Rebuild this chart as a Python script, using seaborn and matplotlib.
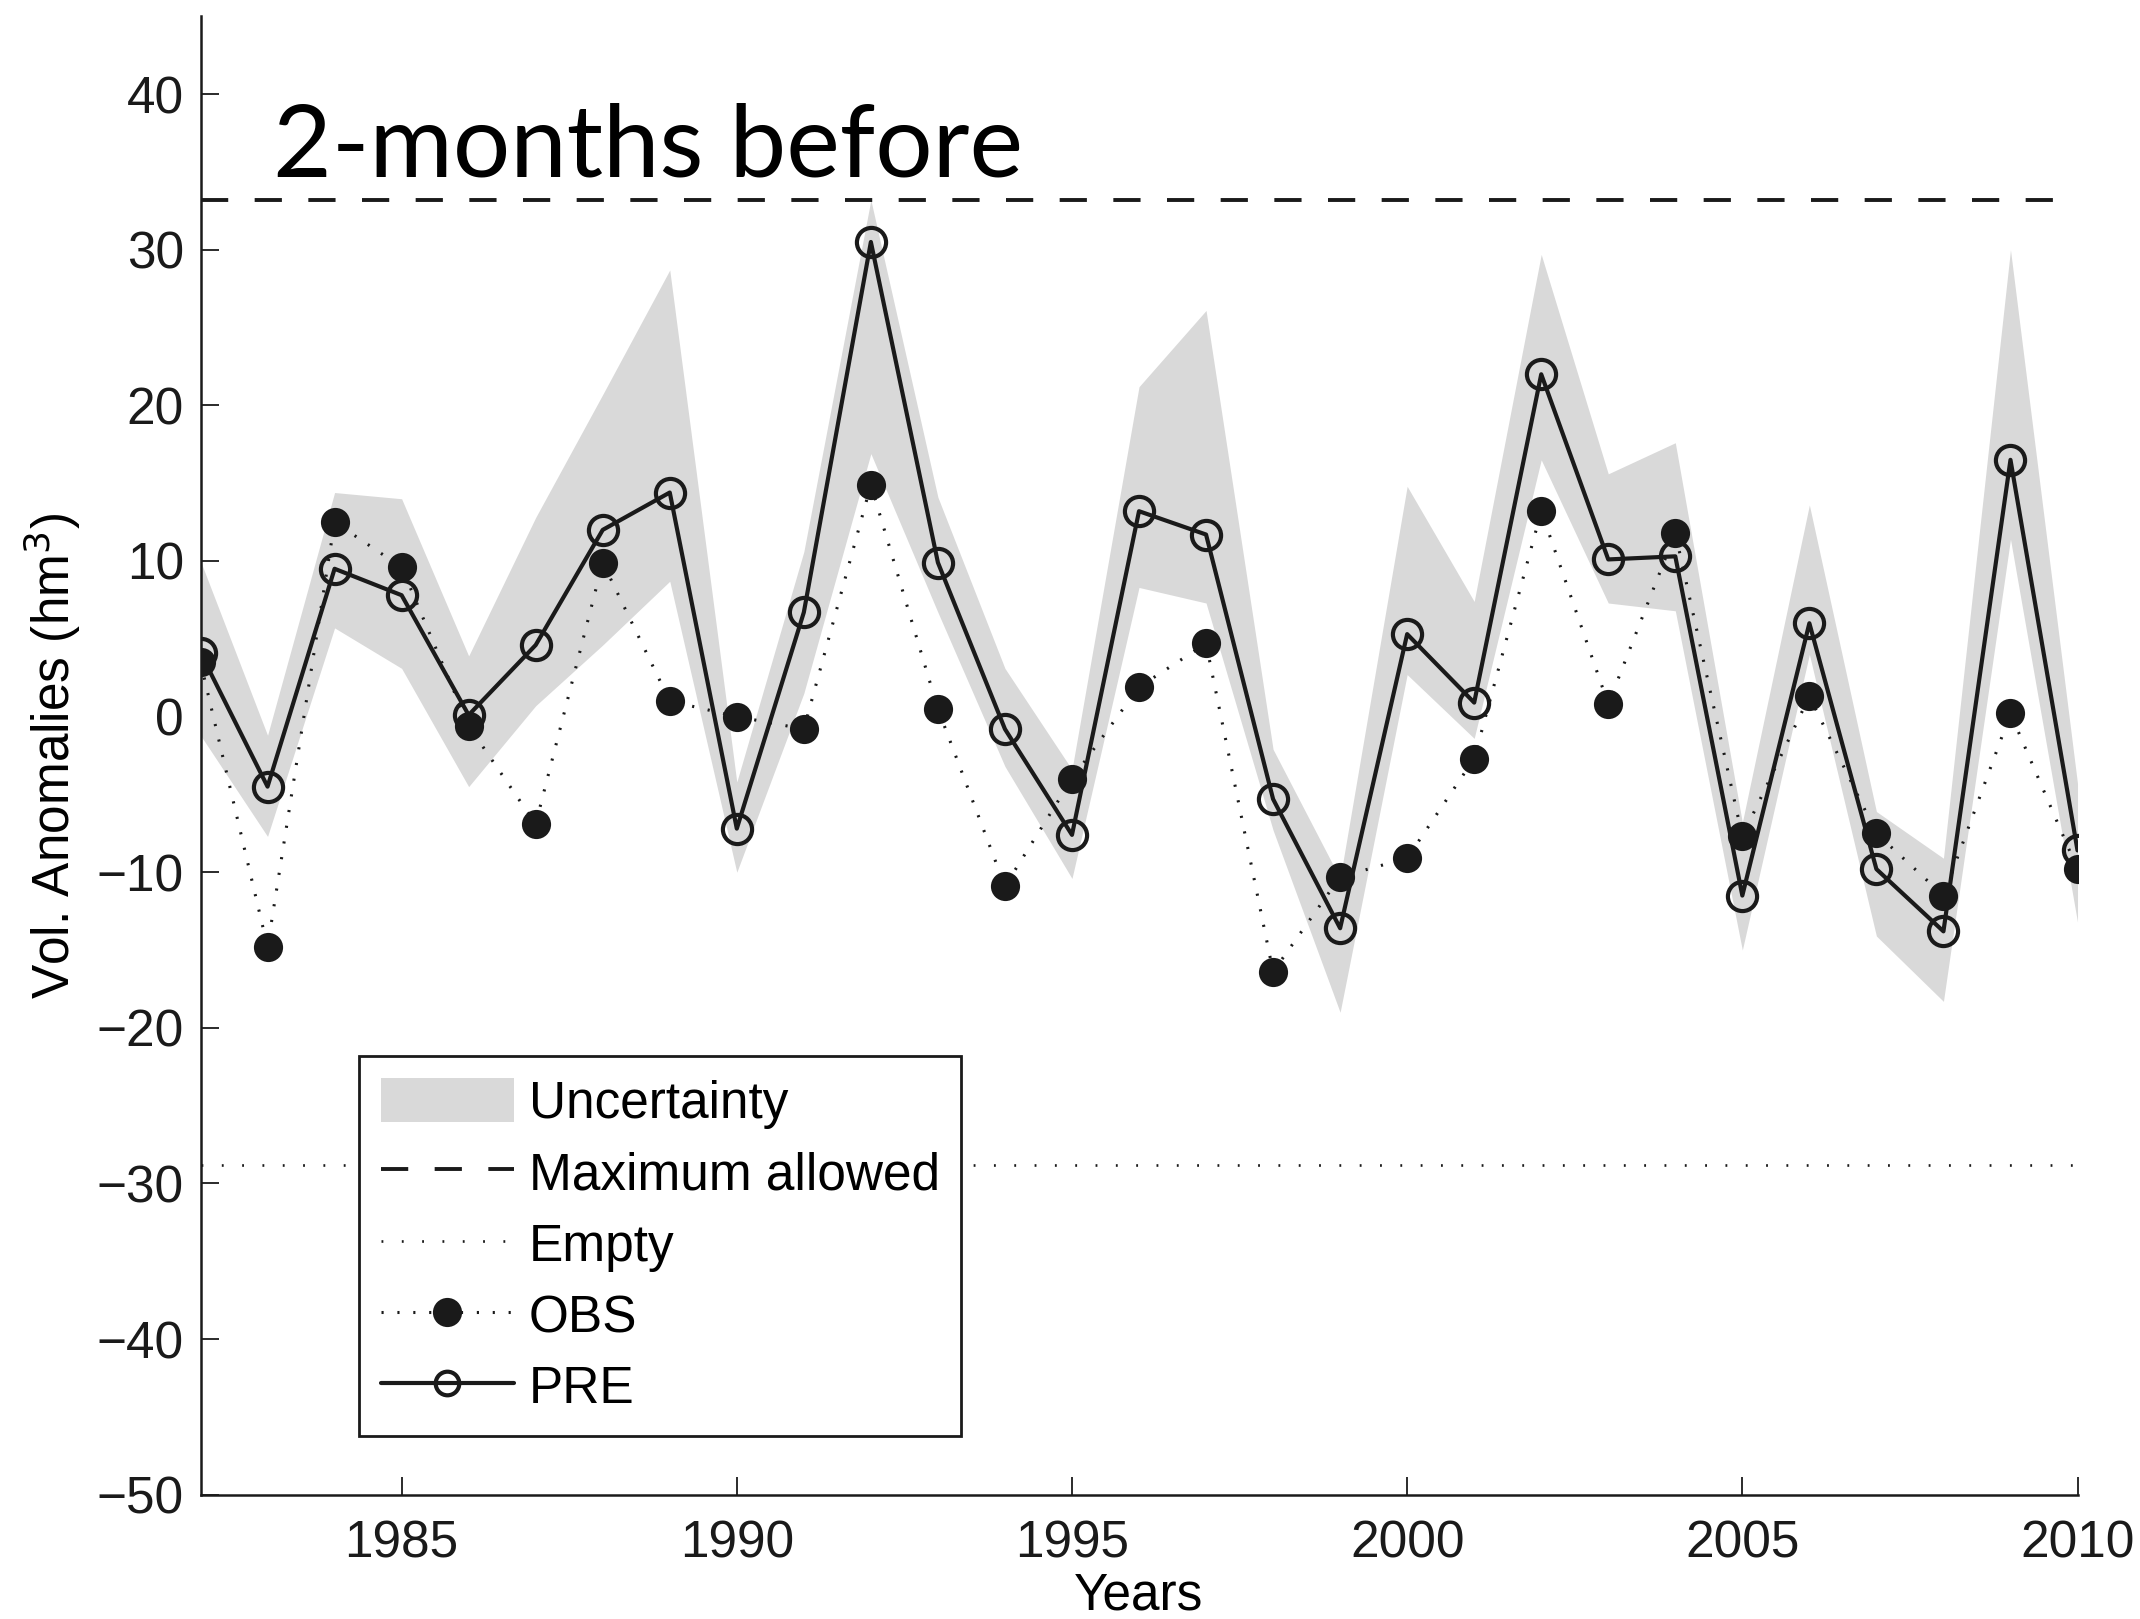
import numpy as np
import pandas as pd
import matplotlib
matplotlib.use("Agg")
import matplotlib.pyplot as plt
import seaborn as sns
from matplotlib.lines import Line2D
from matplotlib.patches import Patch

# ---------------- data ----------------
years = list(range(1982, 2011))
pre = [4.1, -4.5, 9.5, 7.8, 0.1, 4.6, 12.0, 14.4, -7.2, 6.7, 30.5, 9.9, -0.8, -7.6,
       13.2, 11.7, -5.3, -13.6, 5.3, 0.9, 22.0, 10.1, 10.3, -11.5, 6.0, -9.8, -13.8,
       16.5, -8.6]
obs = [3.5, -14.8, 12.5, 9.6, -0.6, -6.9, 9.9, 1.0, 0.0, -0.8, 14.9, 0.5, -10.9, -4.0,
       1.9, 4.7, -16.4, -10.3, -9.1, -2.7, 13.2, 0.8, 11.8, -7.7, 1.3, -7.5, -11.5,
       0.2, -9.8]
upper = [10.0, -1.2, 14.4, 14.0, 3.9, 12.8, 20.7, 28.7, -4.2, 10.6, 33.2, 14.1, 3.1, -3.4,
         21.2, 26.1, -2.1, -10.4, 14.8, 7.4, 29.7, 15.6, 17.6, -6.8, 13.6, -6.1, -9.1,
         30.0, -4.3]
lower = [-1.2, -7.7, 5.7, 3.1, -4.5, 0.7, 4.6, 8.7, -10.0, 1.5, 16.9, 6.7, -3.2, -10.4,
         8.3, 7.3, -7.3, -19.0, 2.7, -1.4, 16.5, 7.3, 6.8, -15.0, 4.0, -14.1, -18.3,
         11.4, -13.2]
max_allowed = 33.2
empty_level = -28.8
x_ticks = [1985, 1990, 1995, 2000, 2005, 2010]
y_ticks = [-50, -40, -30, -20, -10, 0, 10, 20, 30, 40]
legend_labels = ["Uncertainty", "Maximum allowed", "Empty", "OBS", "PRE"]
title_text = "2-months before"

df = pd.DataFrame({"year": years, "pre": pre, "obs": obs,
                   "upper": upper, "lower": lower})

# ---------------- style ----------------
sns.set_theme(style="ticks")
plt.rcParams["font.family"] = ["Liberation Sans", "DejaVu Sans"]
for key in ["text.color", "axes.labelcolor", "xtick.color", "ytick.color",
            "axes.edgecolor"]:
    plt.rcParams[key] = "black"

FS = 37

fig = plt.figure(figsize=(21.4, 16.19), dpi=100)
ax = fig.add_axes([0.0937, 0.0768, 0.8771, 0.9131])

band_color = "#d9d9d9"
ax.fill_between(df["year"], df["lower"], df["upper"], color=band_color, lw=0, zorder=1)

dash_style = (0, (7.0, 6.8))
dot_style = (0, (0.7, 7.0))
obs_style = (0, (0.7, 4.5))
ax.axhline(max_allowed, color="k", lw=2.8, linestyle=dash_style, zorder=2)
ax.axhline(empty_level, color="k", lw=1.9, linestyle=dot_style, zorder=2)

sns.lineplot(data=df, x="year", y="pre", ax=ax, color="k", lw=3.0,
             marker="o", markersize=21, markerfacecolor="none",
             markeredgecolor="k", markeredgewidth=3.0, zorder=3)
sns.lineplot(data=df, x="year", y="obs", ax=ax, color="k", lw=2.2,
             linestyle=obs_style, marker="o", markersize=21,
             markerfacecolor="k", markeredgecolor="k", markeredgewidth=0, zorder=4)

ax.text(1983.08, 34.7, title_text, fontsize=73, family=["Lato", "DejaVu Sans"],
        va="baseline", ha="left", color="black", zorder=5)

ax.set_xlim(1982, 2010)
ax.set_ylim(-50, 45)
ax.set_xticks(x_ticks)
ax.set_yticks(y_ticks)
ax.tick_params(direction="in", length=13, width=1.3, labelsize=FS, colors="k")
ax.tick_params(axis="x", pad=18)
ax.tick_params(axis="y", pad=12)
for s in ["top", "right"]:
    ax.spines[s].set_visible(False)
for s in ["left", "bottom"]:
    ax.spines[s].set_linewidth(1.8)
    ax.spines[s].set_color("k")

ax.set_xlabel("Years", fontsize=FS, labelpad=2, color="black")
ax.set_ylabel("Vol. Anomalies (hm$^{3}$)", fontsize=FS, labelpad=10, color="black")

handles = [
    Patch(facecolor=band_color, edgecolor="none"),
    Line2D([], [], color="k", lw=2.8, linestyle=dash_style),
    Line2D([], [], color="k", lw=1.9, linestyle=dot_style),
    Line2D([], [], color="k", lw=2.2, linestyle=obs_style, marker="o",
           markersize=21, markerfacecolor="k", markeredgewidth=0),
    Line2D([], [], color="k", lw=3.0, marker="o", markersize=17,
           markerfacecolor="none", markeredgewidth=3.0),
]
leg = ax.legend(handles, legend_labels, loc="lower left",
                bbox_to_anchor=(0.0844, 0.0397), fontsize=FS, frameon=True,
                fancybox=False, framealpha=1, edgecolor="k", handlelength=2.6,
                handleheight=0.95, handletextpad=0.28, labelspacing=0.4,
                borderpad=0.42, numpoints=1, borderaxespad=0)
leg.get_frame().set_linewidth(2.0)
for t in leg.get_texts():
    t.set_color("black")
leg.set_zorder(6)

fig.savefig("out.png", dpi=100, facecolor="white")
